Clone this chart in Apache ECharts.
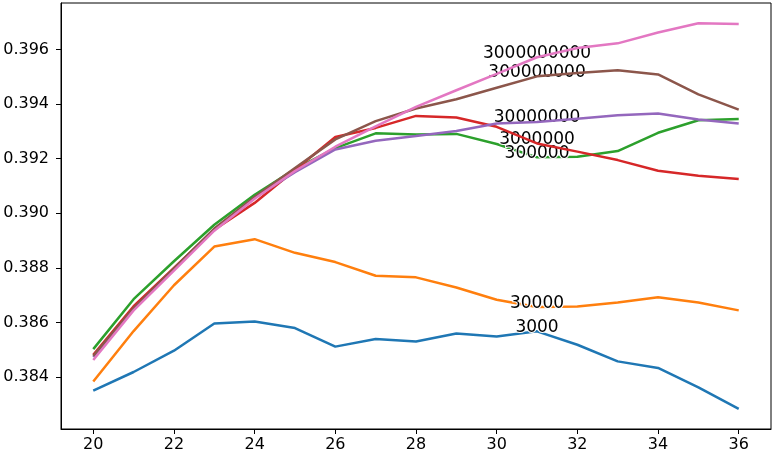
<!DOCTYPE html>
<html><head><meta charset="utf-8">
<script src="https://cdn.jsdelivr.net/npm/echarts@6/dist/echarts.min.js"></script>
<style>html,body{margin:0;padding:0;background:#fff}#c{width:778px;height:459px}</style>
</head><body><div id="c"></div>
<script>
const xs = [20,21,22,23,24,25,26,27,28,29,30,31,32,33,34,35,36];
const names = ['3000','30000','300000','3000000','30000000','300000000','3000000000'];
const colors = ['#1f77b4','#ff7f0e','#2ca02c','#d62728','#9467bd','#8c564b','#e377c2'];
const s3000 = [0.38350,0.38418,0.38496,0.38596,0.38603,0.38579,0.38511,0.38539,0.38530,0.38559,0.38548,0.38567,0.38518,0.38457,0.38433,0.38362,0.38283];
const s30000 = [0.38383,0.38568,0.38736,0.38878,0.38905,0.38855,0.38821,0.38771,0.38765,0.38728,0.38683,0.38656,0.38658,0.38673,0.38692,0.38673,0.38644];
const s300000 = [0.38502,0.38685,0.38824,0.38958,0.39068,0.39162,0.39239,0.39293,0.39289,0.39291,0.39254,0.39205,0.39207,0.39228,0.39295,0.39341,0.39346];
const s3000000 = [0.38481,0.38659,0.38800,0.38940,0.39038,0.39159,0.39280,0.39313,0.39357,0.39351,0.39317,0.39256,0.39226,0.39195,0.39156,0.39138,0.39126];
const s30000000 = [0.38473,0.38648,0.38794,0.38940,0.39057,0.39151,0.39234,0.39266,0.39283,0.39302,0.39329,0.39335,0.39347,0.39359,0.39366,0.39344,0.39329];
const s300000000 = [0.38477,0.38652,0.38798,0.38944,0.39060,0.39166,0.39271,0.39338,0.39384,0.39418,0.39460,0.39502,0.39514,0.39524,0.39509,0.39436,0.39380];
const s3000000000 = [0.38462,0.38644,0.38790,0.38936,0.39053,0.39155,0.39244,0.39319,0.39390,0.39451,0.39511,0.39572,0.39606,0.39623,0.39663,0.39697,0.39694];
const allSeries = [s3000,s30000,s300000,s3000000,s30000000,s300000000,s3000000000];
const xTicks = [20,22,24,26,28,30,32,34,36];
const yTicks = [0.384,0.386,0.388,0.390,0.392,0.394,0.396];
const labelX = 31;

const chart = echarts.init(document.getElementById('c'), null, {renderer:'canvas'});
const font = 'DejaVu Sans';
const series = allSeries.map((vals,i)=>{
  const li = xs.indexOf(labelX);
  return {
    type:'line', name:names[i], data: xs.map((x,j)=>[x, vals[j]]),
    showSymbol:false, symbol:'none', animation:false,
    lineStyle:{color:colors[i], width:2.5}, itemStyle:{color:colors[i]},
    z: 2+i,
    markPoint:{
      symbol:'circle', symbolSize:0, animation:false, silent:true,
      itemStyle:{color:'rgba(0,0,0,0)'},
      data:[{coord:[labelX, vals[li]],
        label:{show:true, formatter:names[i], position:'inside', offset:[0,-4],
          color:'#000', fontFamily:font, fontSize:17,
          textBorderColor:'#fff', textBorderWidth:2}}]
    }
  };
});
chart.setOption({
  backgroundColor:'#fff',
  animation:false,
  grid:{left:61, right:7, top:3, bottom:30, show:true, borderColor:'#000', borderWidth:1, containLabel:false, outerBoundsMode:'none'},
  xAxis:{type:'value', min:19.2, max:36.8,
    axisLine:{show:true, lineStyle:{color:'#000', width:1}},
    axisTick:{show:true, customValues:xTicks, length:5, lineStyle:{color:'#000'}},
    axisLabel:{customValues:xTicks, color:'#000', fontFamily:font, fontSize:16, margin:8, formatter:v=>String(v)},
    splitLine:{show:false}},
  yAxis:{type:'value', min:0.38209, max:0.39771,
    axisLine:{show:true, lineStyle:{color:'#000', width:1}},
    axisTick:{show:true, customValues:yTicks, length:5, lineStyle:{color:'#000'}},
    axisLabel:{customValues:yTicks, color:'#000', fontFamily:font, fontSize:16, margin:12, formatter:v=>v.toFixed(3)},
    splitLine:{show:false}},
  series: series
});
</script></body></html>
